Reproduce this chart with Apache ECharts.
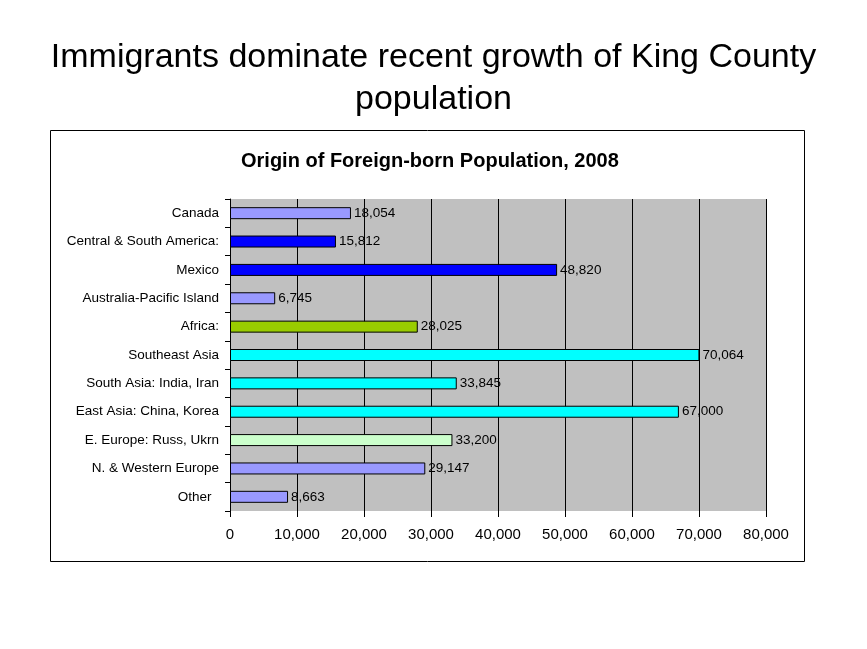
<!DOCTYPE html>
<html>
<head>
<meta charset="utf-8">
<style>
  html, body { margin: 0; padding: 0; background: #fff; }
  #main { width: 867px; height: 649px; }
</style>
</head>
<body>
<div id="main"></div>
<script src="https://cdn.jsdelivr.net/npm/echarts@6/dist/echarts.min.js"></script>
<script type="text/javascript">
    // data
    var categories = ['Canada', 'Central & South America:', 'Mexico', 'Australia-Pacific Island',
        'Africa:', 'Southeast Asia', 'South Asia: India, Iran', 'East Asia: China, Korea',
        'E. Europe: Russ, Ukrn', 'N. & Western Europe', 'Other  '];
    var values = [18054, 15812, 48820, 6745, 28025, 70064, 33845, 67000, 33200, 29147, 8663];
    var barColors = ['#9999ff', '#0000ff', '#0000ff', '#9999ff', '#99cc00', '#00ffff',
        '#00ffff', '#00ffff', '#ccffcc', '#9999ff', '#9999ff'];
    var xTicks = [0, 10000, 20000, 30000, 40000, 50000, 60000, 70000, 80000];

    var myChart = echarts.init(document.getElementById('main'));
    var font = 'Arial, "Liberation Sans", sans-serif';

    function fmt(v) {
        return String(v).replace(/\B(?=(\d{3})+(?!\d))/g, ',');
    }

    var option = {
        backgroundColor: '#fff',
        animation: false,
        title: [{
            text: 'Immigrants dominate recent growth of King County\npopulation',
            left: 'center',
            top: 32,
            textStyle: { fontFamily: font, fontSize: 34, fontWeight: 'normal', color: '#000', lineHeight: 42 }
        }, {
            text: 'Origin of Foreign-born Population, 2008',
            left: 236,
            top: 146,
            textStyle: { fontFamily: font, fontSize: 20, fontWeight: 'bold', color: '#000' }
        }],
        graphic: [{
            type: 'rect',
            shape: { x: 50.5, y: 130.5, width: 754, height: 431 },
            style: { fill: 'none', stroke: '#000', lineWidth: 1 },
            z: -1
        }],
        grid: {
            left: 230, right: 101, top: 199, bottom: 138,
            show: true, backgroundColor: '#c0c0c0', borderWidth: 0
        },
        xAxis: {
            type: 'value',
            min: xTicks[0],
            max: xTicks[xTicks.length - 1],
            interval: 10000,
            axisLine: { show: false },
            axisTick: { show: true, length: 6, lineStyle: { color: '#000' } },
            splitLine: { show: true, lineStyle: { color: '#000', width: 1 } },
            axisLabel: {
                fontFamily: font, fontSize: 15, color: '#000', margin: 16,
                formatter: function (v) { return fmt(v); }
            }
        },
        yAxis: {
            type: 'category',
            data: categories,
            inverse: true,
            axisLine: { show: true, lineStyle: { color: '#000', width: 1 } },
            axisTick: { show: true, length: 5, alignWithLabel: false, lineStyle: { color: '#000' } },
            axisLabel: { fontFamily: font, fontSize: 13.5, color: '#000', margin: 11 }
        },
        series: [{
            type: 'bar',
            data: values.map(function (v, i) {
                return { value: v, itemStyle: { color: barColors[i] } };
            }),
            barWidth: 12,
            itemStyle: { borderColor: '#000', borderWidth: 1 },
            label: {
                show: true,
                position: 'right',
                distance: 3,
                fontFamily: font,
                fontSize: 13.5,
                color: '#000',
                formatter: function (p) { return fmt(p.value); }
            }
        }]
    };
    myChart.setOption(option);
</script>
</body>
</html>
